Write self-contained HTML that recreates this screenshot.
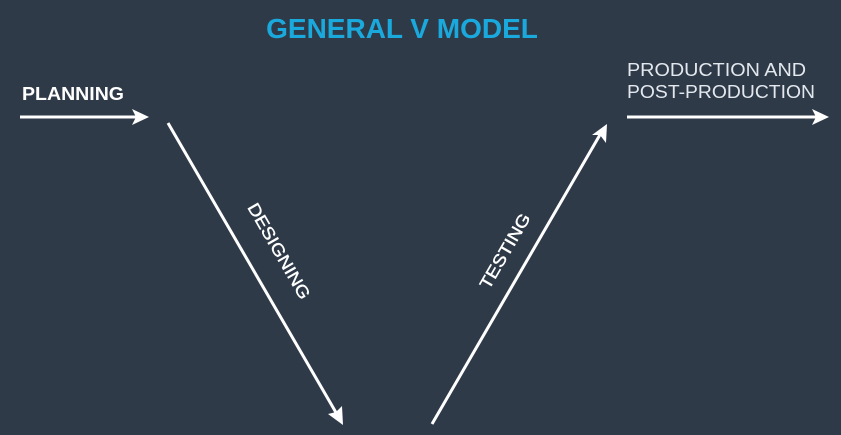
<!DOCTYPE html>
<html><head><style>
body{margin:0;width:841px;height:435px;background:#2f3a49;overflow:hidden}
svg{display:block}
text{font-family:"Liberation Sans",sans-serif}
</style></head><body>
<svg width="841" height="435" viewBox="0 0 841 435">
<text x="402" y="38" fill="#1aa9dd" font-size="28" text-anchor="middle" font-weight="bold">GENERAL V MODEL</text>
<text x="22" y="100" fill="#fff" font-size="18" font-weight="bold" textLength="102" lengthAdjust="spacingAndGlyphs">PLANNING</text>
<text x="627" y="76" fill="#e3e8ee" font-size="18" textLength="179" lengthAdjust="spacingAndGlyphs">PRODUCTION AND</text>
<text x="627" y="98" fill="#e3e8ee" font-size="18" textLength="188" lengthAdjust="spacingAndGlyphs">POST-PRODUCTION</text>
<g stroke="#fff" stroke-width="3" fill="none">
<line x1="20" y1="117" x2="140" y2="117"/>
<line x1="168" y1="123" x2="338" y2="416"/>
<line x1="432" y1="424" x2="601" y2="133"/>
<line x1="627" y1="117" x2="820" y2="117"/>
</g>
<g fill="#fff">
<polygon points="149,117 132,109 136,117 132,125"/>
<polygon points="829,117 812,109 816,117 812,125"/>
<polygon points="343,425 328,414 336,412 342,406"/>
<polygon points="607,124 606,143 600,135 592,135"/>
</g>
<text transform="translate(274,254) rotate(60)" fill="#fff" font-size="17" text-anchor="middle" textLength="108" lengthAdjust="spacingAndGlyphs" stroke="#fff" stroke-width="0.4">DESIGNING</text>
<text transform="translate(510,254) rotate(-60)" fill="#fff" font-size="17" text-anchor="middle" textLength="84" lengthAdjust="spacingAndGlyphs" stroke="#fff" stroke-width="0.4">TESTING</text>
</svg>
</body></html>
